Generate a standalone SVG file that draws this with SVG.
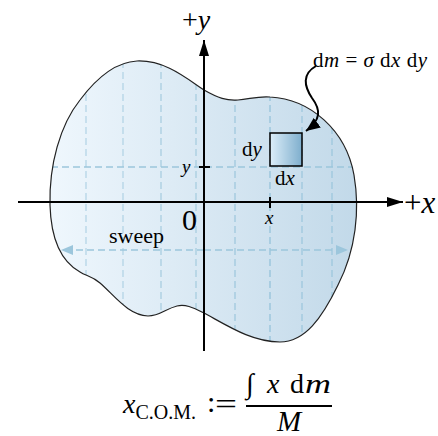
<svg xmlns="http://www.w3.org/2000/svg" width="438" height="436" viewBox="0 0 438 436">
<defs>
<linearGradient id="blobGrad" gradientUnits="userSpaceOnUse" x1="50" y1="0" x2="356" y2="0">
<stop offset="0" stop-color="#eff7fd"/>
<stop offset="1" stop-color="#c2d9e9"/>
</linearGradient>
<linearGradient id="boxGrad" x1="0" y1="0" x2="1" y2="0">
<stop offset="0" stop-color="#ddeef9"/>
<stop offset="1" stop-color="#7eaecd"/>
</linearGradient>
<clipPath id="blobClip">
<path id="blobShape" d="M 137,61 C 165,60 186,78 204,90 C 218,98 227,101 238,100 C 250,99 258,96 270,97 C 310,99 346,130 354,175 C 360,210 356,250 338,285 C 322,318 305,342 280,342 C 252,342 228,326 204,313 C 192,307 185,304 177,306 C 165,309 160,316 148,316 C 128,315 115,296 100,283 C 92,276 86,276 80,272 C 62,262 51,240 50,205 C 49,165 60,125 80,100 C 95,80 115,62 137,61 Z"/>
</clipPath>
<marker id="blueArrow" viewBox="0 0 12 10" refX="11" refY="5" markerWidth="12" markerHeight="10" markerUnits="userSpaceOnUse" orient="auto">
<path d="M0,0 L12,5 L0,10 Z" fill="#9cc6dc"/>
</marker>
<marker id="axisArrow" viewBox="0 0 16 10" refX="16" refY="5" markerWidth="16" markerHeight="10" markerUnits="userSpaceOnUse" orient="auto">
<path d="M0,0 L16,5 L0,10 Z" fill="#000"/>
</marker>
<marker id="curlArrow" viewBox="0 0 14 12" refX="14" refY="6" markerWidth="14" markerHeight="12" markerUnits="userSpaceOnUse" orient="auto">
<path d="M0,0 L14,6 L0,12 Z" fill="#000"/>
</marker>
<style>
.grid { stroke: #9cc6dc; stroke-width: 1.5; stroke-dasharray: 7 4; fill: none; }
.axis { stroke: #000; stroke-width: 2; fill: none; }
.serif { font-family: "Liberation Serif", "Times New Roman", serif; fill: #000; }
.it { font-style: italic; }
</style>
</defs>

<g id="blob">
<use href="#blobShape" fill="url(#blobGrad)"/>
<g clip-path="url(#blobClip)">
<line class="grid" x1="86" y1="50" x2="86" y2="350" opacity="0.6"/>
<line class="grid" x1="123" y1="50" x2="123" y2="350" opacity="0.6"/>
<line class="grid" x1="161" y1="50" x2="161" y2="350" opacity="0.7"/>
<line class="grid" x1="196" y1="50" x2="196" y2="350" opacity="0.7"/>
<line class="grid" x1="235" y1="50" x2="235" y2="350" opacity="0.8"/>
<line class="grid" x1="270" y1="50" x2="270" y2="350"/>
<line class="grid" x1="302" y1="50" x2="302" y2="350" opacity="0.85"/>
<line class="grid" x1="332" y1="50" x2="332" y2="350" opacity="0.85"/>
<line class="grid" x1="40" y1="167" x2="360" y2="167"/>
</g>
<use href="#blobShape" fill="none" stroke="#222" stroke-width="1.2"/>
</g>

<g id="connectors">
<line class="grid" x1="204" y1="250" x2="62" y2="250" marker-end="url(#blueArrow)"/>
<line class="grid" x1="204" y1="250" x2="347" y2="250" marker-end="url(#blueArrow)"/>
<line class="axis" x1="204" y1="351" x2="204" y2="40" marker-end="url(#axisArrow)"/>
<line class="axis" x1="18" y1="202" x2="403" y2="202" marker-end="url(#axisArrow)"/>
<line class="axis" x1="199" y1="167" x2="210" y2="167"/>
<line class="axis" x1="270" y1="197" x2="270" y2="208"/>
<path d="M 316,66 C 302,74 304,86 312,98 C 321,110 321,120 306,131" fill="none" stroke="#000" stroke-width="2" marker-end="url(#curlArrow)"/>
</g>

<g id="element">
<rect x="270" y="133" width="32" height="33" fill="url(#boxGrad)" stroke="#000" stroke-width="1.5"/>
</g>

<g id="labels">
<text class="serif" x="182" y="29" font-size="28">+<tspan class="it">y</tspan></text>
<text class="serif" x="404" y="213" font-size="31">+<tspan class="it">x</tspan></text>
<text class="serif it" x="182" y="173" font-size="19">y</text>
<text class="serif it" x="265" y="224" font-size="19">x</text>
<text class="serif" x="182" y="230" font-size="30">0</text>
<text class="serif" x="109" y="243" font-size="22">sweep</text>
<text class="serif" x="242" y="156" font-size="21">d<tspan class="it">y</tspan></text>
<text class="serif" x="275" y="185" font-size="21">d<tspan class="it">x</tspan></text>
<text class="serif" x="313" y="67" font-size="21" textLength="114" lengthAdjust="spacing">d<tspan class="it">m</tspan> = <tspan class="it">σ</tspan> d<tspan class="it">x</tspan> d<tspan class="it">y</tspan></text>
</g>

<g id="formula">
<text class="serif" x="123" y="413" font-size="28"><tspan class="it">x</tspan><tspan font-size="20" dy="6">C.O.M.</tspan></text>
<text class="serif" x="207" y="412" font-size="30">:</text>
<text class="serif" x="215" y="414" font-size="30" textLength="22" lengthAdjust="spacingAndGlyphs">=</text>
<text class="serif" y="393" font-size="28"><tspan x="246">∫</tspan><tspan class="it" x="267">x</tspan><tspan x="290">d</tspan><tspan class="it" x="305" textLength="26" lengthAdjust="spacingAndGlyphs">m</tspan></text>
<line x1="246" y1="406" x2="332" y2="406" stroke="#000" stroke-width="2"/>
<text class="serif it" x="289" y="431" font-size="29" text-anchor="middle">M</text>
</g>
</svg>
